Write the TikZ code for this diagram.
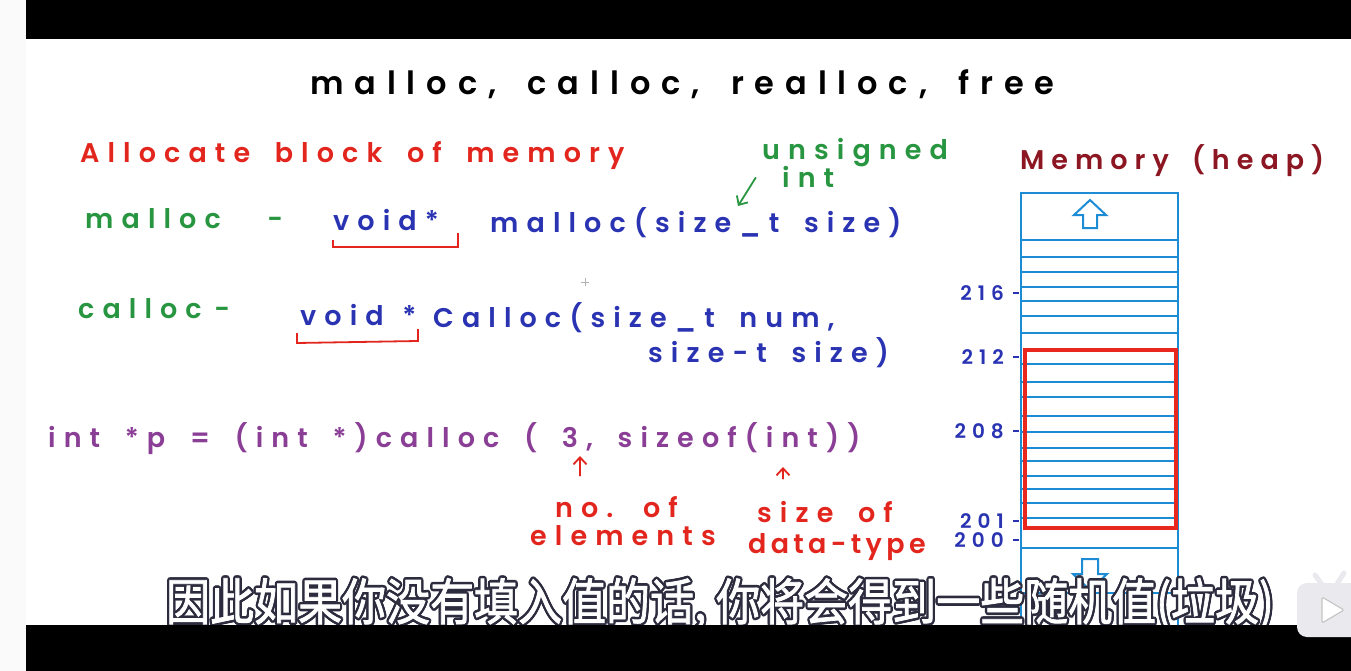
\documentclass[tikz,border=0pt]{standalone}
\usepackage{fontspec}
\usetikzlibrary{positioning,arrows.meta}
\setmainfont{Poppins}
\newfontfamily\hand[LetterSpace=30,WordSpace=1.7]{Poppins SemiBold}
\newfontfamily\cjk[AutoFakeBold=1.6]{Noto Sans CJK SC}

\definecolor{penred}{RGB}{226,38,30}
\definecolor{pengreen}{RGB}{40,150,64}
\definecolor{penblue}{RGB}{42,52,178}
\definecolor{penpurple}{RGB}{138,62,150}
\definecolor{penmaroon}{RGB}{140,22,34}
\definecolor{cellblue}{RGB}{28,140,212}
\definecolor{boxred}{RGB}{232,40,30}
\definecolor{subedge}{RGB}{44,44,62}
\definecolor{logogray}{RGB}{234,234,238}

\tikzset{
  >={Straight Barb[length=7pt,width=13pt]},
  ink/.style={inner sep=0pt, anchor=base west, font=\hand\fontsize{27}{27}\selectfont},
  smallink/.style={inner sep=0pt, anchor=base east, font=\hand\fontsize{20}{20}\selectfont, text=penblue},
  penarrow/.style={->, line width=1.8pt, line cap=round},
  cell/.style={cellblue, line width=2.4pt},
  subline/.style={inner sep=0pt, font=\cjk\bfseries\fontsize{50}{50}\selectfont, xscale=0.88},
}

\begin{document}
\begin{tikzpicture}[x=1pt,y=-1pt]
      \useasboundingbox (0,0) rectangle (1351,671);
      \fill[white] (0,0) rectangle (1351,671);

      % Title
      \node[ink, font=\hand\fontsize{32}{32}\selectfont\addfontfeature{LetterSpace=34}] (title) at (310,95) {malloc, calloc, realloc, free};

      % Left side text
      \node[ink, text=penred] (alloc) at (80,163) {Allocate block of memory};

      \node[ink, text=pengreen] (mname) at (85,228) {malloc\hspace{22pt} -};
      \node[ink, text=penblue] (mvoid) at (333,230) {void*};
      \node[ink, text=penblue] (mproto) at (490,232) {malloc(size\_t size)};

      \node[ink, text=pengreen] (unsig) at (762,160) {unsigned};
      \node[ink, text=pengreen] (uint) at (782,188) {int};

      \node[ink, text=pengreen] (cname) at (78,318) {calloc\hspace{-12pt} -};
      \node[ink, text=penblue] (cvoid) at (300,325) {void\hspace{-6pt} *};
      \node[ink, text=penblue] (cproto) at (433,327) {Calloc(size\_t num,};
      \node[ink, text=penblue] (cproto2) at (648,362) {size-t size)};

      \node[ink, text=penpurple] (call) at (48,447) {int *p = (int *)calloc ( 3, sizeof(int))};

      \node[ink, text=penred] (noof) at (555,517) {no. of};
      \node[ink, text=penred] (elem) at (530,545) {elements};
      \node[ink, text=penred] (sizeof) at (757,522) {size of};
      \node[ink, text=penred, font=\hand\fontsize{27}{27}\selectfont\addfontfeature{LetterSpace=16}] (dtype) at (748,553) {data-type};

      % Brackets under void*
      \draw[penred, line width=1.8pt] (333,240) -- (333,247) -- (458,247) -- (458,233);   % malloc
      \draw[penred, line width=1.8pt] (297,333) -- (297,343) -- (418,341) -- (418,329);   % calloc

      % Arrows
      \coordinate (sizet) at (738,206);
      \coordinate (three) at (580,456);
      \coordinate (intarg) at (783,467);
      \draw[penarrow, pengreen, shorten <=12pt] (unsig.south west) -- (sizet);
      \draw[penarrow, penred, shorten <=20pt] (three |- noof.north) -- (three);
      \draw[penarrow, penred, shorten <=22pt] (intarg |- sizeof.north) -- (intarg);

      % cursor
      \draw[gray!60, line width=0.5pt] (581,282) -- (589,282) (585,278) -- (585,286);

      % Memory (heap)
      \node[ink, text=penmaroon, font=\hand\fontsize{27}{27}\selectfont\addfontfeature{LetterSpace=26}] (memlabel) at (1020,170) {Memory (heap)};

      \draw[cell] (1021,193) rectangle (1178,660);
      \foreach \y in {240,257,272,287,301,316,333,364,382,397,416,432,448,461,476,489,503,518,548,593}
          \draw[cell] (1021,\y) -- (1178,\y);

      % Block arrows
      \draw[cellblue, line width=2pt, line join=miter] (1090,200) -- (1106,215) -- (1097,215) -- (1097,228)
            -- (1083,228) -- (1083,215) -- (1074,215) -- cycle;
      \draw[cellblue, line width=2pt, line join=miter] (1090,590) -- (1107,574) -- (1098,574) -- (1098,559)
            -- (1082,559) -- (1082,574) -- (1073,574) -- cycle;

      % calloc block
      \draw[boxred, line width=3.8pt] (1025,350) rectangle (1176,528);

      % Address ticks
      \foreach \y/\lab in {293/216,357/212,431/208,521/201,540/200} {
          \draw[penblue, line width=1.8pt] (1013,\y) -- (1019,\y);
          \node[smallink] (addr\lab) at (1004,\y+7) {\lab};
      }

      % Subtitle
      \foreach \a [count=\i] in {0,30,...,330}
          \node[subline, text=subedge, shift={(\a:2.6)}] (subedge\i) at (720,604) {因此如果你没有填入值的话, 你将会得到一些随机值(垃圾)};
      \node[subline, text=white] (sub) at (720,604) {因此如果你没有填入值的话, 你将会得到一些随机值(垃圾)};

      % Video bars
      \fill[black] (26,0) rectangle (1351,39);
      \fill[black] (26,625) rectangle (1351,671);
      \fill[gray!4] (0,0) rectangle (26,671);

      % Player logo
      \fill[logogray, rounded corners=10pt] (1297,583) rectangle (1370,637);
      \draw[logogray, line width=5pt, line cap=round] (1315,575) -- (1323,586);
      \draw[logogray, line width=5pt, line cap=round] (1344,573) -- (1337,584);
      \draw[gray!45, fill=white, line width=1.2pt, rounded corners=2pt] (1322,597) -- (1344,610) -- (1322,623) -- cycle;

\end{tikzpicture}
\end{document}
